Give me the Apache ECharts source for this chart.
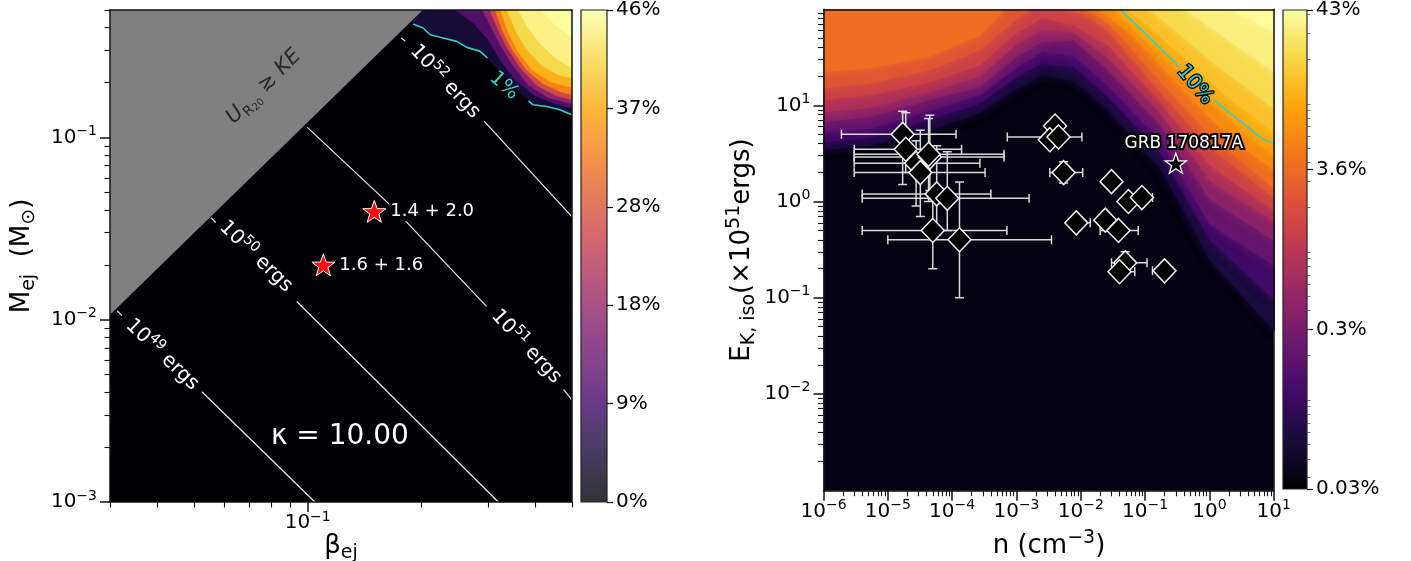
<!DOCTYPE html>
<html>
<head>
<meta charset="utf-8">
<script src="https://cdn.jsdelivr.net/npm/echarts@6.0.0/dist/echarts.min.js"></script>
<style>
html,body{margin:0;padding:0;background:#ffffff;}
#chart{width:1411px;height:561px;}
</style>
</head>
<body>
<div id="chart"></div>
<script>
// ================= DATA =================
// ---- Left panel: beta_ej (x) vs M_ej in Msun (y); paths are [log10 beta, log10 M]
const leftXRange = [0.03, 0.5];
const leftYRange = [0.001, 0.5];
const leftXMajorTicks = [0.1];
const leftYMajorTicks = [0.001, 0.01, 0.1];
const leftCbarMax = 46;
const leftCbarTicks = [0, 9.2, 18.4, 27.6, 36.8, 46];
const leftCbarLabels = ['0%', '9%', '18%', '28%', '37%', '46%'];

// region where U_R20 >= KE (gray)
const grayRegionPath = [[-1.523, -1.973], [-0.695, -0.300], [-1.523, -0.300]];

// kinetic-energy contours (white), each a list of segments
const erg49Segments = [[[-1.504, -1.951], [-1.491, -1.978]], [[-1.280, -2.395], [-0.981, -3.0]]];
const erg50Segments = [[[-1.256, -1.440], [-1.243, -1.467]], [[-1.029, -1.900], [-0.496, -3.0]]];
const erg51Segments = [[[-1.001, -0.945], [-0.778, -1.378], [-0.527, -1.927]], [[-0.323, -2.384], [-0.302, -2.439]]];
const erg52Segments = [[[-0.752, -0.455], [-0.742, -0.473]], [[-0.533, -0.912], [-0.302, -1.433]]];

// 1% contour (cyan), two pieces around its label
const leftCyanA = [[-0.721, -0.378], [-0.695, -0.400], [-0.676, -0.437], [-0.650, -0.451], [-0.606, -0.473], [-0.579, -0.506], [-0.544, -0.528], [-0.525, -0.564]];
const leftCyanB = [[-0.416, -0.799], [-0.404, -0.821], [-0.368, -0.830], [-0.333, -0.848], [-0.306, -0.872], [-0.301, -0.876]];

// filled levels (% efficiency) of the colour field in the upper-right corner
const leftBandLevels = [1, 8, 14, 22, 30, 36, 40, 43.5, 45.5];
const leftBandPaths = [
  [[-0.721, -0.378], [-0.695, -0.400], [-0.676, -0.437], [-0.650, -0.451], [-0.606, -0.473], [-0.579, -0.506], [-0.544, -0.528], [-0.525, -0.564], [-0.491, -0.640], [-0.452, -0.727], [-0.416, -0.799], [-0.404, -0.821], [-0.368, -0.830], [-0.333, -0.848], [-0.306, -0.872], [-0.301, -0.876]],
  [[-0.610, -0.300], [-0.557, -0.382], [-0.523, -0.464], [-0.491, -0.574], [-0.452, -0.684], [-0.399, -0.771], [-0.346, -0.815], [-0.301, -0.837]],
  [[-0.539, -0.300], [-0.518, -0.382], [-0.491, -0.492], [-0.459, -0.601], [-0.417, -0.711], [-0.364, -0.782], [-0.301, -0.815]],
  [[-0.518, -0.300], [-0.499, -0.398], [-0.473, -0.508], [-0.438, -0.618], [-0.393, -0.716], [-0.343, -0.771], [-0.301, -0.793]],
  [[-0.504, -0.300], [-0.486, -0.409], [-0.459, -0.519], [-0.422, -0.629], [-0.378, -0.705], [-0.333, -0.749], [-0.301, -0.766]],
  [[-0.491, -0.300], [-0.470, -0.420], [-0.444, -0.530], [-0.407, -0.629], [-0.359, -0.695], [-0.301, -0.727]],
  [[-0.473, -0.300], [-0.449, -0.420], [-0.420, -0.519], [-0.380, -0.607], [-0.338, -0.656], [-0.301, -0.673]],
  [[-0.444, -0.300], [-0.417, -0.398], [-0.385, -0.486], [-0.346, -0.563], [-0.301, -0.618]],
  [[-0.385, -0.300], [-0.346, -0.382], [-0.301, -0.453]]
];

// binary neutron star mergers (red stars)
const mergerBeta = [0.15, 0.11];
const mergerMass = [0.0393, 0.020];
const mergerLabels = ['1.4 + 2.0', '1.6 + 1.6'];

// ---- Right panel: n in cm^-3 (x) vs E_K,iso in 1e51 erg (y); paths are [log10 n, log10 E]
const rightXRange = [1e-6, 10];
const rightYRange = [0.00098, 100];
const rightXMajorTicks = [1e-6, 1e-5, 1e-4, 1e-3, 1e-2, 1e-1, 1, 10];
const rightYMajorTicks = [0.01, 0.1, 1, 10];
const rightCbarMin = 0.025;
const rightCbarMax = 43;
const rightCbarTicks = [0.025, 0.2995, 3.588, 43];
const rightCbarLabels = ['0.03%', '0.3%', '3.6%', '43%'];

const rightBandLevels = [0.04, 0.08, 0.15, 0.3, 0.6, 1.1, 2, 2, 3, 3, 5, 8, 10, 12, 18, 27, 38];
const rightBandPaths = [
  [[-6, 0.54], [-5.28, 0.58], [-4.34, 0.74], [-3.57, 0.92], [-3.01, 1.16], [-2.60, 1.32], [-2.11, 1.26], [-1.58, 0.95], [-0.77, 0.35], [0.01, -0.61], [1.00, -1.34]],
  [[-6, 0.62], [-5.28, 0.66], [-4.34, 0.85], [-3.57, 1.02], [-3.01, 1.29], [-2.60, 1.44], [-2.11, 1.40], [-1.58, 1.09], [-0.77, 0.52], [0.01, -0.40], [1.00, -1.02]],
  [[-6, 0.72], [-5.28, 0.76], [-4.34, 0.95], [-3.57, 1.11], [-3.01, 1.39], [-2.60, 1.56], [-2.11, 1.52], [-1.58, 1.21], [-0.77, 0.64], [0.01, -0.24], [1.00, -0.66]],
  [[-6, 0.83], [-5.28, 0.88], [-4.34, 1.06], [-3.57, 1.19], [-3.01, 1.50], [-2.60, 1.66], [-2.11, 1.68], [-1.58, 1.37], [-0.77, 0.80], [0.01, 0.02], [1.00, -0.40]],
  [[-6, 0.93], [-5.28, 0.98], [-4.34, 1.14], [-3.57, 1.30], [-3.01, 1.63], [-2.60, 1.78], [-2.11, 1.76], [-1.58, 1.49], [-0.77, 0.93], [0.01, 0.22], [1.00, -0.21]],
  [[-6, 1.06], [-5.28, 1.11], [-4.34, 1.24], [-3.57, 1.42], [-3.01, 1.75], [-2.60, 1.91], [-2.11, 1.84], [-1.58, 1.63], [-0.77, 1.04], [0.01, 0.38], [1.00, -0.09]],
  [[-6, 1.18], [-5.28, 1.23], [-4.34, 1.37], [-3.57, 1.58], [-3.01, 1.89], [-2.79, 2.00]],
  [[-2.25, 2.00], [-1.93, 1.94], [-1.58, 1.78], [-0.77, 1.14], [0.01, 0.56], [1.00, 0.04]],
  [[-6, 1.35], [-5.28, 1.39], [-4.34, 1.51], [-3.57, 1.73], [-3.18, 2.00]],
  [[-1.93, 2.00], [-1.58, 1.86], [-0.77, 1.26], [0.01, 0.69], [1.00, 0.14]],
  [[-1.73, 2.00], [-1.24, 1.75], [-0.77, 1.42], [0.01, 0.87], [0.47, 0.59], [1.00, 0.33]],
  [[-1.50, 2.00], [-1.08, 1.73], [-0.77, 1.52], [-0.30, 1.24], [0.09, 1.01], [0.47, 0.76], [1.00, 0.48]],
  [[-1.39, 2.00], [-1.05, 1.78], [-0.74, 1.58], [-0.46, 1.40], [-0.21, 1.23], [0.07, 1.06], [0.32, 0.92], [0.59, 0.78], [0.85, 0.64], [1.00, 0.61]],
  [[-1.28, 2.00], [-0.96, 1.83], [-0.64, 1.64], [-0.36, 1.47], [-0.09, 1.31], [0.19, 1.14], [0.47, 0.99], [0.75, 0.85], [1.00, 0.71]],
  [[-0.93, 2.00], [-0.53, 1.78], [-0.15, 1.56], [0.24, 1.35], [0.63, 1.16], [1.00, 0.97]],
  [[-0.38, 2.00], [0.09, 1.78], [0.55, 1.56], [1.00, 1.35]],
  [[0.32, 2.00], [0.71, 1.87], [1.00, 1.76]]
];
// 10% contour (cyan), two pieces around its label
const rightCyanA = [[-1.39, 2.00], [-1.05, 1.78], [-0.74, 1.58], [-0.46, 1.40]];
const rightCyanB = [[0.07, 1.06], [0.32, 0.92], [0.59, 0.78], [0.85, 0.64], [1.00, 0.61]];

// short GRB afterglows: density, energy and error-bar ends (null = not visible)
const grbN   = [1.7e-5, 1.9e-5, 2.75e-5, 3.2e-5, 4.5e-5, 4.3e-5, 5.75e-5, 8.4e-5, 5.0e-5, 1.3e-4,
                3.98e-3, 3.3e-3, 4.5e-3, 5.4e-3, 3.0e-2, 5.5e-2, 8.9e-2, 8.5e-3, 2.4e-2, 3.85e-2, 4.9e-2, 4.0e-2, 0.2];
const grbE   = [5.0, 3.5, 2.5, 2.0, 2.9, 3.1, 1.2, 1.08, 0.5, 0.4,
                6.1, 4.4, 4.7, 2.0, 1.61, 1.0, 1.1, 0.60, 0.64, 0.50, 0.23, 0.186, 0.19];
const grbNLo = [1.9e-6, 3.0e-6, 3.0e-6, 3.0e-6, 3.0e-6, 3.0e-6, 4.0e-6, 4.0e-6, 4.0e-6, 1.0e-5,
                null, null, 7.2e-4, 3.3e-3, null, null, null, null, null, 2.0e-2, 3.0e-2, null, 0.13];
const grbNHi = [1.15e-4, 1.4e-4, 2.7e-4, 3.25e-4, 6.4e-4, 6.4e-4, 4.0e-4, 1.57e-3, 7.1e-4, 3.5e-3,
                null, null, 1.04e-2, 1.07e-2, null, null, 0.13, 1.4e-2, null, 7.8e-2, 0.107, 6.9e-2, 0.26];
const grbELo = [1.5, 2.0, 0.9, 0.7, 1.3, 1.0, 0.45, 0.5, 0.2, 0.1,
                null, null, null, 1.56, null, null, null, null, null, null, null, null, null];
const grbEHi = [8.7, 8.4, 4.3, 5.5, 7.9, 7.3, 3.8, 3.3, 1.2, 1.6,
                null, null, null, 2.6, null, null, null, null, null, null, 0.30, null, null];

const gw170817N = [0.30];
const gw170817E = [2.5];
const gw170817Label = 'GRB 170817A';

// ================= STYLE / HELPERS =================
const FONT = 'DejaVu Sans';
const INFERNO = ['#000004', '#160b39', '#420a68', '#6a176e', '#932667', '#bc3754', '#dd513a', '#f37819', '#fca50a', '#f6d746', '#fcffa4'];
const INF_RGB = INFERNO.map(h => [parseInt(h.slice(1, 3), 16), parseInt(h.slice(3, 5), 16), parseInt(h.slice(5, 7), 16)]);
function cmap(f, alpha) {
  f = Math.max(0, Math.min(1, f));
  const t = f * 10, i = Math.min(9, Math.floor(t)), u = t - i;
  const a = INF_RGB[i], b = INF_RGB[i + 1];
  let c = [0, 1, 2].map(k => a[k] + (b[k] - a[k]) * u);
  if (alpha != null) c = c.map(x => x * alpha + 255 * (1 - alpha));
  return 'rgb(' + c.map(Math.round).join(',') + ')';
}
const rightF = v => Math.log10(v / rightCbarMin) / Math.log10(rightCbarMax / rightCbarMin);
const leftF = v => v / leftCbarMax;
const P10 = v => Math.pow(10, v);

function nextLevel(levels, i, top) {
  for (let k = i + 1; k < levels.length; k++) if (levels[k] > levels[i]) return levels[k];
  return top;
}
const leftBandColors = leftBandLevels.map((l, i) => cmap(leftF((l + nextLevel(leftBandLevels, i, leftCbarMax)) / 2)));
const rightBandColors = rightBandLevels.map((l, i) => cmap(rightF(Math.sqrt(l * nextLevel(rightBandLevels, i, rightCbarMax)))));

function makeBandRender(paths, colors, xMinL, xMaxL, yMaxL, blur) {
  return function (params, api) {
    const i = params.dataIndex;
    const path = paths[i];
    const first = path[0], last = path[path.length - 1];
    const hi = yMaxL + 0.6;
    const pts = path.slice();
    if (last[0] >= xMaxL - 0.005) pts.push([xMaxL + 0.5, last[1]], [xMaxL + 0.5, hi]);
    else pts.push([last[0], hi]);
    if (first[0] <= xMinL + 0.005) pts.push([xMinL - 0.5, hi], [xMinL - 0.5, first[1]]);
    else pts.push([first[0], hi]);
    const points = pts.map(p => api.coord([P10(p[0]), P10(p[1])]));
    const style = { fill: colors[i], stroke: colors[i], lineWidth: 0.6 };
    if (blur) { style.shadowBlur = blur; style.shadowColor = colors[i]; }
    return { type: 'polygon', shape: { points: points }, style: style };
  };
}

function minorLogTicks(min, max, withDecades) {
  const out = [];
  for (let e = -8; e <= 3; e++) {
    for (let k = (withDecades ? 1 : 2); k <= 9; k++) {
      const v = +(k * Math.pow(10, e)).toPrecision(6);
      if (v >= min * 0.9999 && v <= max * 1.0001) out.push(v);
    }
  }
  return out;
}
function powLabel(v) {
  const e = Math.round(Math.log10(v));
  return '{b|10}{s|' + (e < 0 ? '\u2212' + (-e) : String(e)) + '}';
}
function labelFor(v, ticks, labels) {
  let best = 0, bd = Infinity;
  ticks.forEach((t, i) => { const d = Math.abs(Math.log(Math.max(t, 1e-9)) - Math.log(Math.max(v, 1e-9))); if (d < bd) { bd = d; best = i; } });
  return labels[best];
}
const tickRich = {
  b: { fontSize: 20, fontFamily: FONT, color: '#000', lineHeight: 26 },
  s: { fontSize: 14, fontFamily: FONT, color: '#000', lineHeight: 14, verticalAlign: 'top' }
};
const AX = '#111';
function majorLogAxis(grid, pos, range, ticks, isX) {
  return {
    type: 'log', logBase: 10, gridIndex: grid, position: pos, min: range[0], max: range[1],
    axisLine: { show: true, onZero: false, lineStyle: { color: AX, width: 1.5 } },
    axisTick: { show: true, inside: false, length: 10, customValues: ticks, lineStyle: { color: AX, width: 1.5 } },
    axisLabel: { show: true, customValues: ticks, formatter: powLabel, rich: tickRich, margin: isX ? 8 : 13, hideOverlap: false },
    splitLine: { show: false }, z: 10
  };
}
function minorLogAxis(grid, pos, range, ticks) {
  return {
    type: 'log', logBase: 10, gridIndex: grid, position: pos, min: range[0], max: range[1],
    axisLine: { show: false, onZero: false },
    axisTick: { show: true, inside: false, length: 5.5, customValues: ticks, lineStyle: { color: AX, width: 1.1 } },
    axisLabel: { show: false }, splitLine: { show: false }, z: 10
  };
}
function spineAxis(grid, pos) {
  return {
    type: 'value', gridIndex: grid, position: pos, min: 0, max: 1,
    axisLine: { show: true, onZero: false, lineStyle: { color: AX, width: 1.5 } },
    axisTick: { show: false }, axisLabel: { show: false }, splitLine: { show: false }, z: 10
  };
}

function lineSeries(seg, xi, yi, color, width) {
  return {
    type: 'line', xAxisIndex: xi, yAxisIndex: yi, data: seg.map(p => [P10(p[0]), P10(p[1])]),
    symbol: 'none', silent: true, z: 4, clip: true,
    lineStyle: { color: color, width: width, opacity: 1 }
  };
}

function makeTextRender(specs) {
  return function (params, api) {
    const s = specs[params.dataIndex];
    const p = api.coord([P10(s.pos[0]), P10(s.pos[1])]);
    return {
      type: 'text', x: p[0], y: p[1], rotation: (s.rot || 0) * Math.PI / 180,
      style: Object.assign({ align: 'center', verticalAlign: 'middle', fontFamily: FONT }, s.style)
    };
  };
}
const whiteRich = {
  n: { fontSize: 20, fontFamily: FONT, fill: '#ffffff', color: '#ffffff', lineHeight: 26 },
  s: { fontSize: 14, fontFamily: FONT, fill: '#ffffff', color: '#ffffff', lineHeight: 14, verticalAlign: 'top' }
};
const grayRich = {
  u: { fontSize: 21, fontFamily: FONT, fontStyle: 'italic', fill: '#262626', lineHeight: 28 },
  g: { fontSize: 21, fontFamily: FONT, fill: '#262626', lineHeight: 28 },
  r: { fontSize: 14, fontFamily: FONT, fill: '#262626', lineHeight: 14, verticalAlign: 'bottom' },
  rr: { fontSize: 10, fontFamily: FONT, fill: '#262626', lineHeight: 10, verticalAlign: 'bottom' }
};
const leftTexts = [
  { pos: [-1.385, -2.192], rot: -44, style: { text: '{n|10}{s|49}{n| ergs}', rich: whiteRich } },
  { pos: [-1.137, -1.654], rot: -44, style: { text: '{n|10}{s|50}{n| ergs}', rich: whiteRich } },
  { pos: [-0.422, -2.148], rot: -47, style: { text: '{n|10}{s|51}{n| ergs}', rich: whiteRich } },
  { pos: [-0.637, -0.694], rot: -47, style: { text: '{n|10}{s|52}{n| ergs}', rich: whiteRich } },
  { pos: [-1.116, -0.722], rot: 45, style: { text: '{u|U}{r|R}{rr|20}{g| \u2273 }{u|KE}', rich: grayRich } },
  { pos: [-0.915, -2.642], rot: 0, style: { text: '\u03ba = 10.00', fill: '#ffffff', fontSize: 28 } },
  { pos: [-0.481, -0.716], rot: -42, style: { text: '1%', fill: '#3ccbc2', fontSize: 20 } }
];
const rightTexts = [
  { pos: [-0.225, 1.212], rot: -50, style: { text: '10%', fill: '#3ccbc2', stroke: '#000', lineWidth: 2.5, strokeFirst: true, fontSize: 20 } }
];

function renderErrorBars(params, api) {
  const i = params.dataIndex;
  const c = api.coord([grbN[i], grbE[i]]);
  const st = { stroke: '#d9d9d9', lineWidth: 1.5 };
  const cap = 4.5, kids = [];
  const seg = (x1, y1, x2, y2) => kids.push({ type: 'line', shape: { x1: x1, y1: y1, x2: x2, y2: y2 }, style: st });
  if (grbNLo[i] != null) { const p = api.coord([grbNLo[i], grbE[i]]); seg(p[0], c[1], c[0], c[1]); seg(p[0], c[1] - cap, p[0], c[1] + cap); }
  if (grbNHi[i] != null) { const p = api.coord([grbNHi[i], grbE[i]]); seg(c[0], c[1], p[0], c[1]); seg(p[0], c[1] - cap, p[0], c[1] + cap); }
  if (grbELo[i] != null) { const p = api.coord([grbN[i], grbELo[i]]); seg(c[0], c[1], c[0], p[1]); seg(c[0] - cap, p[1], c[0] + cap, p[1]); }
  if (grbEHi[i] != null) { const p = api.coord([grbN[i], grbEHi[i]]); seg(c[0], p[1], c[0], c[1]); seg(c[0] - cap, p[1], c[0] + cap, p[1]); }
  return { type: 'group', children: kids };
}

function cbarGradient(alpha) {
  const stops = [];
  for (let k = 0; k <= 40; k++) stops.push({ offset: k / 40, color: cmap(k / 40, alpha) });
  return new echarts.graphic.LinearGradient(0, 1, 0, 0, stops);
}
function makeCbarRender(yMin, yMax, grad) {
  return function (params, api) {
    const p0 = api.coord([0, yMin]), p1 = api.coord([1, yMax]);
    const shape = { x: p0[0], y: p1[1], width: p1[0] - p0[0], height: p0[1] - p1[1] };
    return { type: 'group', children: [
      { type: 'rect', shape: shape, style: { fill: grad } },
      { type: 'rect', shape: shape, style: { fill: 'none', stroke: '#222', lineWidth: 1.2 } }
    ] };
  };
}

const STAR = 'path://M0,-50 L11.8,-16.2 L47.6,-15.5 L19,6.2 L29.4,40.5 L0,20 L-29.4,40.5 L-19,6.2 L-47.6,-15.5 L-11.8,-16.2 Z';
const nameRich = {
  m: { fontSize: 26, fontFamily: FONT, fill: '#000', lineHeight: 34 },
  sub: { fontSize: 19, fontFamily: FONT, fill: '#000', lineHeight: 19, verticalAlign: 'bottom' },
  sup: { fontSize: 19, fontFamily: FONT, fill: '#000', lineHeight: 19, verticalAlign: 'top' }
};

// ================= OPTION =================
const series = [];
// ---- left panel
series.push({
  type: 'custom', xAxisIndex: 0, yAxisIndex: 0, clip: true, z: 1, silent: true,
  data: leftBandPaths.map(p => [P10(p[0][0]), P10(p[0][1])]),
  renderItem: makeBandRender(leftBandPaths, leftBandColors, Math.log10(leftXRange[0]), Math.log10(leftXRange[1]), Math.log10(leftYRange[1]), 0)
});
series.push({
  type: 'custom', xAxisIndex: 0, yAxisIndex: 0, clip: true, z: 2, silent: true,
  data: [[P10(grayRegionPath[0][0]), P10(grayRegionPath[0][1])]],
  renderItem: (params, api) => ({
    type: 'polygon',
    shape: { points: grayRegionPath.concat([[-1.9, -0.2], [-1.9, -2.3]]).map(p => api.coord([P10(p[0]), P10(p[1])])) },
    style: { fill: '#808080' }
  })
});
[erg49Segments, erg50Segments, erg51Segments, erg52Segments].forEach(segs => segs.forEach(s => series.push(lineSeries(s, 0, 0, '#ececec', 1.2))));
[leftCyanA, leftCyanB].forEach(s => series.push(lineSeries(s, 0, 0, '#3ccbc2', 1.6)));
series.push({
  type: 'custom', xAxisIndex: 0, yAxisIndex: 0, clip: true, z: 6, silent: true,
  data: leftTexts.map(t => [P10(t.pos[0]), P10(t.pos[1])]),
  renderItem: makeTextRender(leftTexts)
});
series.push({
  type: 'scatter', xAxisIndex: 0, yAxisIndex: 0, z: 7, silent: true,
  data: mergerBeta.map((b, i) => [b, mergerMass[i]]),
  symbol: STAR, symbolSize: 23, symbolKeepAspect: true,
  itemStyle: { color: '#ff0d0d', borderColor: '#ffffff', borderWidth: 1, opacity: 1 },
  label: { show: true, position: 'right', distance: 3, formatter: p => mergerLabels[p.dataIndex], color: '#ffffff', fontSize: 18, fontFamily: FONT, backgroundColor: '#000004', padding: [1, 1] }
});
series.push({
  type: 'custom', xAxisIndex: 3, yAxisIndex: 3, silent: true, z: 2,
  data: [[0.5, 23]],
  renderItem: makeCbarRender(0, leftCbarMax, cbarGradient(0.8))
});
// ---- right panel
series.push({
  type: 'custom', xAxisIndex: 4, yAxisIndex: 4, clip: true, z: 1, silent: true,
  data: rightBandPaths.map(p => [P10(p[0][0]), P10(p[0][1])]),
  renderItem: makeBandRender(rightBandPaths, rightBandColors, -6, 1, 2, 9)
});
[rightCyanA, rightCyanB].forEach(s => series.push(lineSeries(s, 4, 4, '#3ccbc2', 1.6)));
series.push({
  type: 'custom', xAxisIndex: 4, yAxisIndex: 4, clip: true, z: 6, silent: true,
  data: rightTexts.map(t => [P10(t.pos[0]), P10(t.pos[1])]),
  renderItem: makeTextRender(rightTexts)
});
series.push({
  type: 'custom', xAxisIndex: 4, yAxisIndex: 4, clip: true, z: 5, silent: true,
  data: grbN.map((n, i) => [n, grbE[i]]),
  renderItem: renderErrorBars
});
series.push({
  type: 'scatter', xAxisIndex: 4, yAxisIndex: 4, z: 6, silent: true,
  data: grbN.map((n, i) => [n, grbE[i]]),
  symbol: 'diamond', symbolSize: [23, 24],
  itemStyle: { color: '#000000', borderColor: '#eeeeee', borderWidth: 1.5, opacity: 1 }
});
series.push({
  type: 'scatter', xAxisIndex: 4, yAxisIndex: 4, z: 7, silent: true,
  data: gw170817N.map((n, i) => [n, gw170817E[i]]),
  symbol: STAR, symbolSize: 21, symbolKeepAspect: true,
  itemStyle: { color: '#000000', borderColor: '#ffffff', borderWidth: 1.3, opacity: 1 },
  label: { show: true, position: 'top', distance: 1, offset: [8, 0], formatter: gw170817Label, color: '#ffffff', fontSize: 17, fontFamily: FONT, textBorderColor: '#000', textBorderWidth: 4 }
});
series.push({
  type: 'custom', xAxisIndex: 7, yAxisIndex: 7, silent: true, z: 2,
  data: [[0.5, 1]],
  renderItem: makeCbarRender(rightCbarMin, rightCbarMax, cbarGradient(null))
});

const option = {
  animation: false,
  backgroundColor: '#ffffff',
  textStyle: { fontFamily: FONT },
  grid: [
    { left: 110, top: 10, width: 462, height: 492, show: true, backgroundColor: '#000004', borderWidth: 0 },
    { left: 581, top: 10, width: 26, height: 492 },
    { left: 823.5, top: 9.3, width: 450.3, height: 481.4, show: true, backgroundColor: cmap(rightF(0.03)), borderWidth: 0 },
    { left: 1283, top: 10, width: 24, height: 479 }
  ],
  xAxis: [
    majorLogAxis(0, 'bottom', leftXRange, leftXMajorTicks, true),
    minorLogAxis(0, 'bottom', leftXRange, minorLogTicks(leftXRange[0], leftXRange[1], false)),
    spineAxis(0, 'top'),
    { type: 'value', gridIndex: 1, min: 0, max: 1, show: false },
    majorLogAxis(2, 'bottom', rightXRange, rightXMajorTicks, true),
    minorLogAxis(2, 'bottom', rightXRange, minorLogTicks(rightXRange[0], rightXRange[1], false)),
    spineAxis(2, 'top'),
    { type: 'value', gridIndex: 3, min: 0, max: 1, show: false }
  ],
  yAxis: [
    majorLogAxis(0, 'left', leftYRange, leftYMajorTicks, false),
    minorLogAxis(0, 'left', leftYRange, minorLogTicks(leftYRange[0], leftYRange[1], false)),
    spineAxis(0, 'right'),
    {
      type: 'value', gridIndex: 1, position: 'right', min: 0, max: leftCbarMax,
      axisLine: { show: false, onZero: false },
      axisTick: { show: true, length: 6, customValues: leftCbarTicks, lineStyle: { color: AX, width: 1.2 } },
      axisLabel: { show: true, customValues: leftCbarTicks, formatter: v => labelFor(v + 1e-6, leftCbarTicks.map(t => t + 1e-6), leftCbarLabels), fontSize: 20, color: '#000', fontFamily: FONT, margin: 9 },
      splitLine: { show: false }, z: 10
    },
    majorLogAxis(2, 'left', rightYRange, rightYMajorTicks, false),
    minorLogAxis(2, 'left', rightYRange, minorLogTicks(rightYRange[0], rightYRange[1], false)),
    spineAxis(2, 'right'),
    {
      type: 'log', logBase: 10, gridIndex: 3, position: 'right', min: rightCbarMin, max: rightCbarMax,
      axisLine: { show: false, onZero: false },
      axisTick: { show: true, length: 6, customValues: rightCbarTicks, lineStyle: { color: AX, width: 1.2 } },
      axisLabel: { show: true, customValues: rightCbarTicks, formatter: v => labelFor(v, rightCbarTicks, rightCbarLabels), fontSize: 20, color: '#000', fontFamily: FONT, margin: 9 },
      splitLine: { show: false }, z: 10
    },
    {
      type: 'log', logBase: 10, gridIndex: 3, position: 'right', min: rightCbarMin, max: rightCbarMax,
      axisLine: { show: false, onZero: false },
      axisTick: { show: true, length: 3.5, customValues: minorLogTicks(0.027, 42, true), lineStyle: { color: '#555', width: 0.8 } },
      axisLabel: { show: false }, splitLine: { show: false }, z: 10
    }
  ],
  series: series,
  graphic: [
    { type: 'text', x: 22, y: 256, rotation: Math.PI / 2, style: { text: '{m|M}{sub|ej}{m|  (M}{sub|\u2299}{m|)}', rich: nameRich, align: 'center', verticalAlign: 'middle' } },
    { type: 'text', x: 341, y: 546, style: { text: '{m|\u03b2}{sub|ej}', rich: nameRich, align: 'center', verticalAlign: 'middle' } },
    { type: 'text', x: 1049, y: 546, style: { text: '{m|n (cm}{sup|\u22123}{m|)}', rich: nameRich, align: 'center', verticalAlign: 'middle' } },
    { type: 'text', x: 742, y: 250, rotation: Math.PI / 2, style: { text: '{m|E}{sub|K, iso}{m|(\u00d710}{sup|51}{m|ergs)}', rich: nameRich, align: 'center', verticalAlign: 'middle' } }
  ]
};

const chart = echarts.init(document.getElementById('chart'), null, { renderer: 'canvas' });
chart.setOption(option);
</script>
</body>
</html>
